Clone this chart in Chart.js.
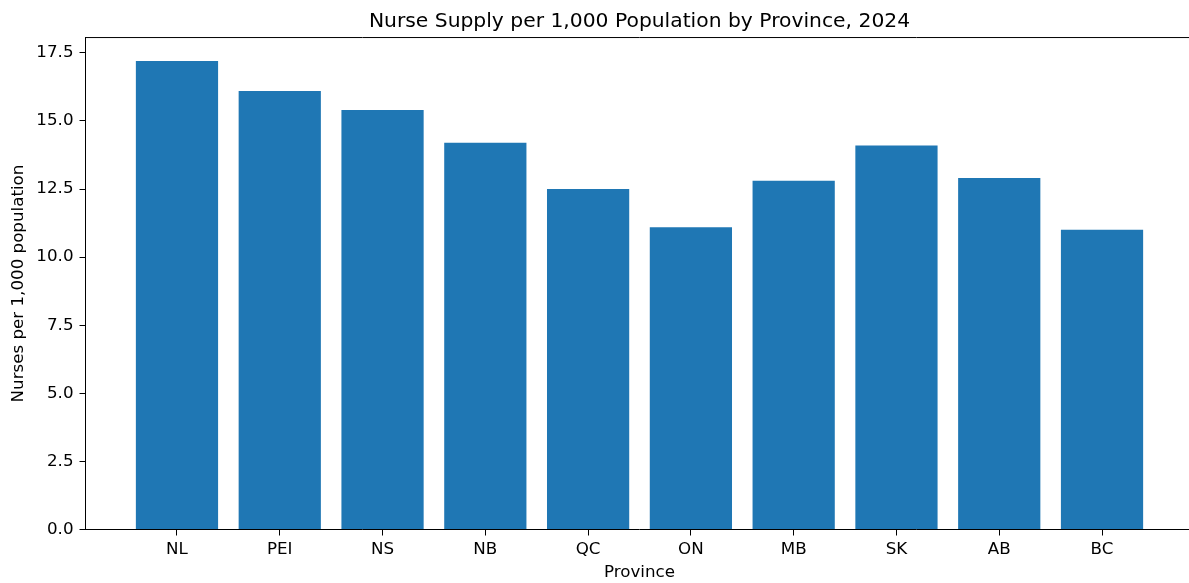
<!DOCTYPE html>
<html>
<head>
<meta charset="utf-8">
<title>Nurse Supply per 1,000 Population by Province, 2024</title>
<script src="https://cdn.jsdelivr.net/npm/chart.js@4/dist/chart.umd.min.js"></script>
<style>
  html, body { margin: 0; padding: 0; background: #fff; overflow: hidden; }
  #wrap { position: relative; width: 1200px; height: 583px; }
</style>
</head>
<body>
<div id="wrap"><canvas id="chart" width="1200" height="583"></canvas></div>
<script>
// Provinces along the x axis, left to right
const provinces = ['NL', 'PEI', 'NS', 'NB', 'QC', 'ON', 'MB', 'SK', 'AB', 'BC'];
// Registered nurses per 1,000 population
const nurseRates = [17.2, 16.1, 15.4, 14.2, 12.5, 11.1, 12.8, 14.1, 12.9, 11.0];
// Value axis ticks
const yTicks = [0, 2.5, 5, 7.5, 10, 12.5, 15, 17.5];

const FONT = "'DejaVu Sans', sans-serif";
const BAR_COLOR = '#1f77b4';

// x range padded by 5% of the bar span on each side
const barHalf = 0.4;
const span = (provinces.length - 1) + 2 * barHalf;
const xMin = -barHalf - 0.05 * span;
const xMax = (provinces.length - 1) + barHalf + 0.05 * span;
const yMax = Math.max(...nurseRates) * 1.05;

// Top spine of the axes box
const topSpine = {
  id: 'topSpine',
  afterDraw(chart) {
    const { ctx, chartArea } = chart;
    ctx.save();
    ctx.strokeStyle = '#000';
    ctx.lineWidth = 1;
    ctx.beginPath();
    ctx.moveTo(chartArea.left, chartArea.top);
    ctx.lineTo(chartArea.right, chartArea.top);
    ctx.stroke();
    ctx.restore();
  }
};

new Chart(document.getElementById('chart'), {
  type: 'bar',
  data: {
    datasets: [{
      data: provinces.map((p, i) => ({ x: i, y: nurseRates[i] })),
      backgroundColor: BAR_COLOR,
      borderWidth: 0,
      categoryPercentage: 1.0,
      barPercentage: 0.8
    }]
  },
  options: {
    responsive: false,
    animation: false,
    devicePixelRatio: 1,
    layout: { padding: { left: 0, right: 6.5, top: 0, bottom: 0 } },
    plugins: {
      legend: { display: false },
      tooltip: { enabled: false },
      title: {
        display: true,
        fullSize: false,
        text: 'Nurse Supply per 1,000 Population by Province, 2024',
        color: '#000',
        font: { family: FONT, size: 20.3, weight: 'normal' },
        padding: { top: 9.4, bottom: 3.8 }
      }
    },
    scales: {
      x: {
        type: 'linear',
        min: xMin,
        max: xMax,
        offset: false,
        afterBuildTicks(scale) {
          scale.ticks = provinces.map((p, i) => ({ value: i }));
        },
        afterFit(scale) { scale.height = 53.5; },
        ticks: {
          callback: (v) => provinces[v],
          color: '#000',
          font: { family: FONT, size: 16.7 },
          padding: 4,
          maxRotation: 0,
          autoSkip: false
        },
        grid: { offset: false, drawOnChartArea: false, drawTicks: true, tickLength: 6, color: '#000', tickWidth: 1 },
        border: { display: true, color: '#000', width: 1 },
        title: {
          display: true,
          text: 'Province',
          color: '#000',
          font: { family: FONT, size: 16.7 },
          padding: { top: 0, bottom: 0.2 }
        }
      },
      y: {
        min: 0,
        max: yMax,
        afterBuildTicks(scale) {
          scale.ticks = yTicks.map(v => ({ value: v }));
        },
        afterFit(scale) { scale.width = 85.5; },
        ticks: {
          callback: (v) => v.toFixed(1),
          color: '#000',
          font: { family: FONT, size: 16.7 },
          padding: 6
        },
        grid: { drawOnChartArea: false, drawTicks: true, tickLength: 6, color: '#000', tickWidth: 1 },
        border: { display: true, color: '#000', width: 1 },
        title: {
          display: true,
          text: 'Nurses per 1,000 population',
          color: '#000',
          font: { family: FONT, size: 16.7 },
          padding: { top: 8.8, bottom: 0 }
        }
      }
    }
  },
  plugins: [topSpine]
});
</script>
</body>
</html>
